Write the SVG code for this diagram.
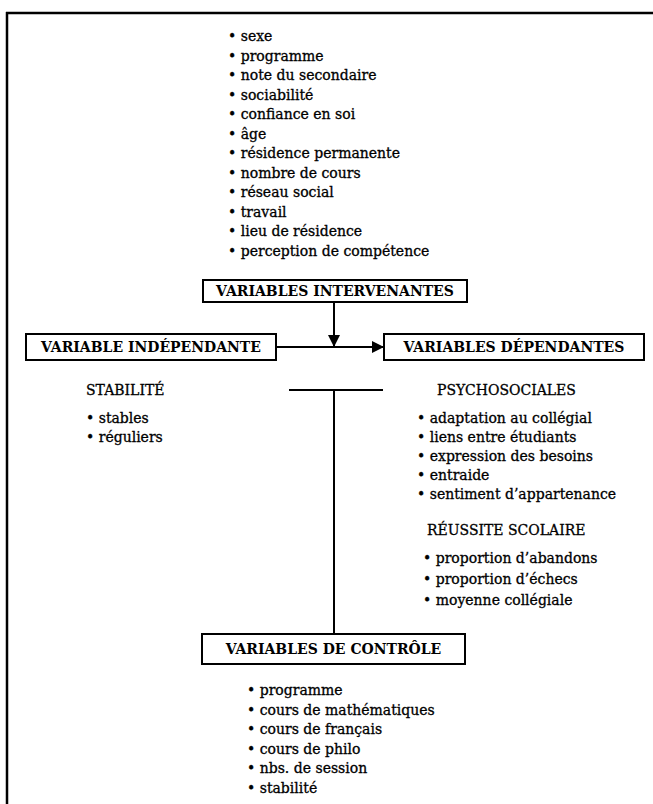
<svg xmlns="http://www.w3.org/2000/svg" width="653" height="804" viewBox="0 0 653 804">
<defs>
<style>
.t{font-family:"DejaVu Serif","Liberation Serif",serif;font-size:14px;fill:#000;stroke:#000;stroke-width:0.3}
.h{font-family:"DejaVu Serif","Liberation Serif",serif;font-size:14px;font-weight:bold;fill:#000}
.box{fill:#fff;stroke:#000;stroke-width:2}
.ln{stroke:#000;stroke-width:2;fill:none}
</style>
<marker id="ah" viewBox="0 0 12 12" refX="12" refY="6" markerWidth="12" markerHeight="12" markerUnits="userSpaceOnUse" orient="auto">
<path d="M0,0 L12,6 L0,12 Z" fill="#000"/>
</marker>
</defs>
<rect width="653" height="804" fill="#fff"/>
<g id="frame">
<line x1="6" y1="13" x2="653" y2="13" stroke="#000" stroke-width="2.5"/>
<line x1="7" y1="12" x2="7" y2="804" stroke="#000" stroke-width="2.5"/>
</g>
<g id="connectors">
<line class="ln" x1="334" y1="302" x2="334" y2="347" marker-end="url(#ah)"/>
<line class="ln" x1="276" y1="347" x2="384" y2="347" marker-end="url(#ah)"/>
<line class="ln" x1="289" y1="390" x2="383" y2="390"/>
<line class="ln" x1="334" y1="390" x2="334" y2="634"/>
</g>
<g id="intervenantes-list">
<text class="t" x="228" y="41">• sexe</text>
<text class="t" x="228" y="60.5">• programme</text>
<text class="t" x="228" y="80">• note du secondaire</text>
<text class="t" x="228" y="99.5">• sociabilité</text>
<text class="t" x="228" y="119">• confiance en soi</text>
<text class="t" x="228" y="138.5">• âge</text>
<text class="t" x="228" y="158">• résidence permanente</text>
<text class="t" x="228" y="177.5">• nombre de cours</text>
<text class="t" x="228" y="197">• réseau social</text>
<text class="t" x="228" y="216.5">• travail</text>
<text class="t" x="228" y="236">• lieu de résidence</text>
<text class="t" x="228" y="255.5">• perception de compétence</text>
</g>
<g id="intervenantes">
<rect class="box" x="203" y="280" width="264" height="22"/>
<text class="h" x="335" y="296" text-anchor="middle">VARIABLES INTERVENANTES</text>
</g>
<g id="independante">
<rect class="box" x="26" y="334" width="250" height="26"/>
<text class="h" x="151" y="352" text-anchor="middle">VARIABLE INDÉPENDANTE</text>
<text class="t" x="86" y="395">STABILITÉ</text>
<text class="t" x="86" y="423">• stables</text>
<text class="t" x="86" y="442">• réguliers</text>
</g>
<g id="dependantes">
<rect class="box" x="384" y="334" width="260" height="26"/>
<text class="h" x="514" y="352" text-anchor="middle">VARIABLES DÉPENDANTES</text>
<text class="t" x="437" y="395">PSYCHOSOCIALES</text>
<text class="t" x="417" y="423">• adaptation au collégial</text>
<text class="t" x="417" y="442">• liens entre étudiants</text>
<text class="t" x="417" y="461">• expression des besoins</text>
<text class="t" x="417" y="480">• entraide</text>
<text class="t" x="417" y="499">• sentiment d’appartenance</text>
<text class="t" x="427" y="535">RÉUSSITE SCOLAIRE</text>
<text class="t" x="423" y="563">• proportion d’abandons</text>
<text class="t" x="423" y="584">• proportion d’échecs</text>
<text class="t" x="423" y="605">• moyenne collégiale</text>
</g>
<g id="controle">
<rect class="box" x="202" y="634" width="263" height="30"/>
<text class="h" x="333.5" y="654" text-anchor="middle">VARIABLES DE CONTRÔLE</text>
<text class="t" x="247" y="695">• programme</text>
<text class="t" x="247" y="714.5">• cours de mathématiques</text>
<text class="t" x="247" y="734">• cours de français</text>
<text class="t" x="247" y="753.5">• cours de philo</text>
<text class="t" x="247" y="773">• nbs. de session</text>
<text class="t" x="247" y="792.5">• stabilité</text>
</g>
</svg>
